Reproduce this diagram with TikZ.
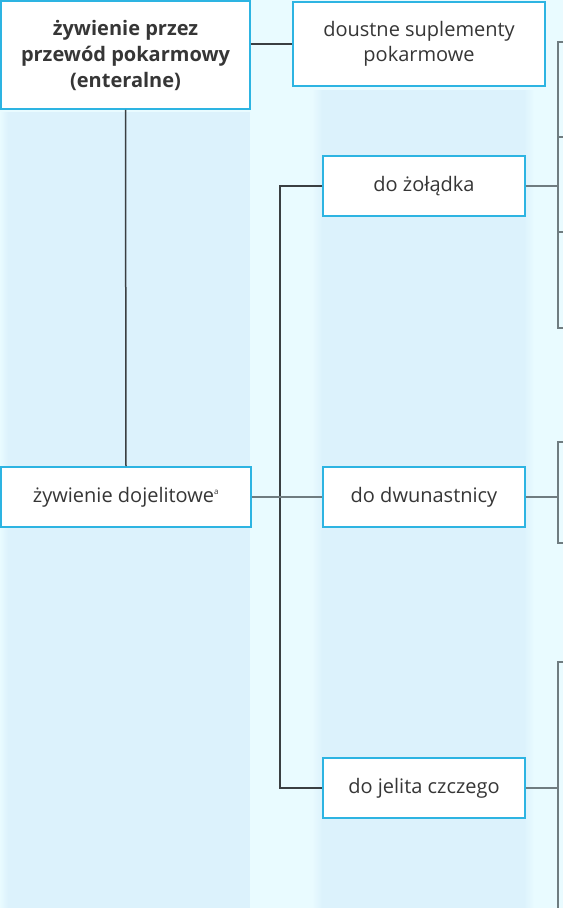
\documentclass[tikz,border=0pt]{standalone}
\usepackage{fontspec}
\setmainfont{Open Sans}
\definecolor{bgcol}{HTML}{E9FBFF}
\definecolor{bandcol}{HTML}{DCF2FC}
\definecolor{boxline}{HTML}{2DB4E2}
\definecolor{txtcol}{HTML}{363636}
\definecolor{darkline}{HTML}{3A3F42}
\definecolor{greyline}{HTML}{6F7C80}
\begin{document}
\begin{tikzpicture}[x=1pt,y=-1pt,
  boxstyle/.style={draw=boxline,line width=1.6pt,fill=white,text=txtcol,
    inner sep=0pt,align=center,font=\fontsize{20}{24.5}\selectfont},
  trunk/.style={draw=darkline,line width=1.5pt},
  branch/.style={draw=greyline,line width=1.5pt}]
\useasboundingbox (0,0) rectangle (563,908);
\fill[bgcol] (0,0) rectangle (563,908);
% column bands
\fill[bandcol] (8,112) rectangle (250,908);
\shade[left color=bgcol,right color=bandcol] (0,112) rectangle (8,908);
\fill[bandcol] (322,90) rectangle (524,908);
\shade[left color=bgcol,right color=bandcol] (312,90) rectangle (322,908);
\shade[left color=bandcol,right color=bgcol] (524,90) rectangle (534,908);
% boxes
\node[boxstyle,minimum width=249pt,minimum height=108pt,font=\fontsize{20}{26}\selectfont\bfseries] (b1) at (125.5,55)
  {żywienie przez\\przewód pokarmowy\\(enteralne)};
\node[boxstyle,minimum width=252pt,minimum height=84pt] (b2) at (419,44)
  {doustne suplementy\\pokarmowe};
\node[boxstyle,minimum width=202pt,minimum height=60pt] (b3) at (424,186) {do żołądka};
\node[boxstyle,minimum width=250pt,minimum height=60pt] (b4) at (126,497) {żywienie dojelitowe\textsuperscript{\footnotesize a}};
\node[boxstyle,minimum width=202pt,minimum height=60pt] (b5) at (424,497) {do dwunastnicy};
\node[boxstyle,minimum width=202pt,minimum height=60pt] (b6) at (424,788) {do jelita czczego};
% connectors
\draw[trunk] (b1.east |- b2.west) -- (b2.west);
\draw[trunk] (b1.south) -- (b4.north);
\draw[trunk] (b3.west) -- ++(-42,0) coordinate (sp) |- (b6.west);
\draw[branch] (b4.east) -- (b5.west);
% right brackets
\coordinate (r1) at (558,186);
\coordinate (r2) at (558,497);
\coordinate (r3) at (558,788);
\draw[branch] (b3.east) -- (r1);
\draw[branch] (b5.east) -- (r2);
\draw[branch] (b6.east) -- (r3);
\coordinate (t1) at (563,42);
\coordinate (t2) at (563,328);
\draw[branch] (t1) -- (558,42) -- (558,328) -- (t2);
\draw[branch] (558,137) -- (563,137);
\draw[branch] (558,232) -- (563,232);
\coordinate (t3) at (563,442);
\coordinate (t4) at (563,543);
\draw[branch] (t3) -- (558,442) -- (558,543) -- (t4);
\coordinate (t5) at (563,662);
\coordinate (t6) at (558,908);
\draw[branch] (t5) -- (558,662) -- (t6);
\end{tikzpicture}
\end{document}
